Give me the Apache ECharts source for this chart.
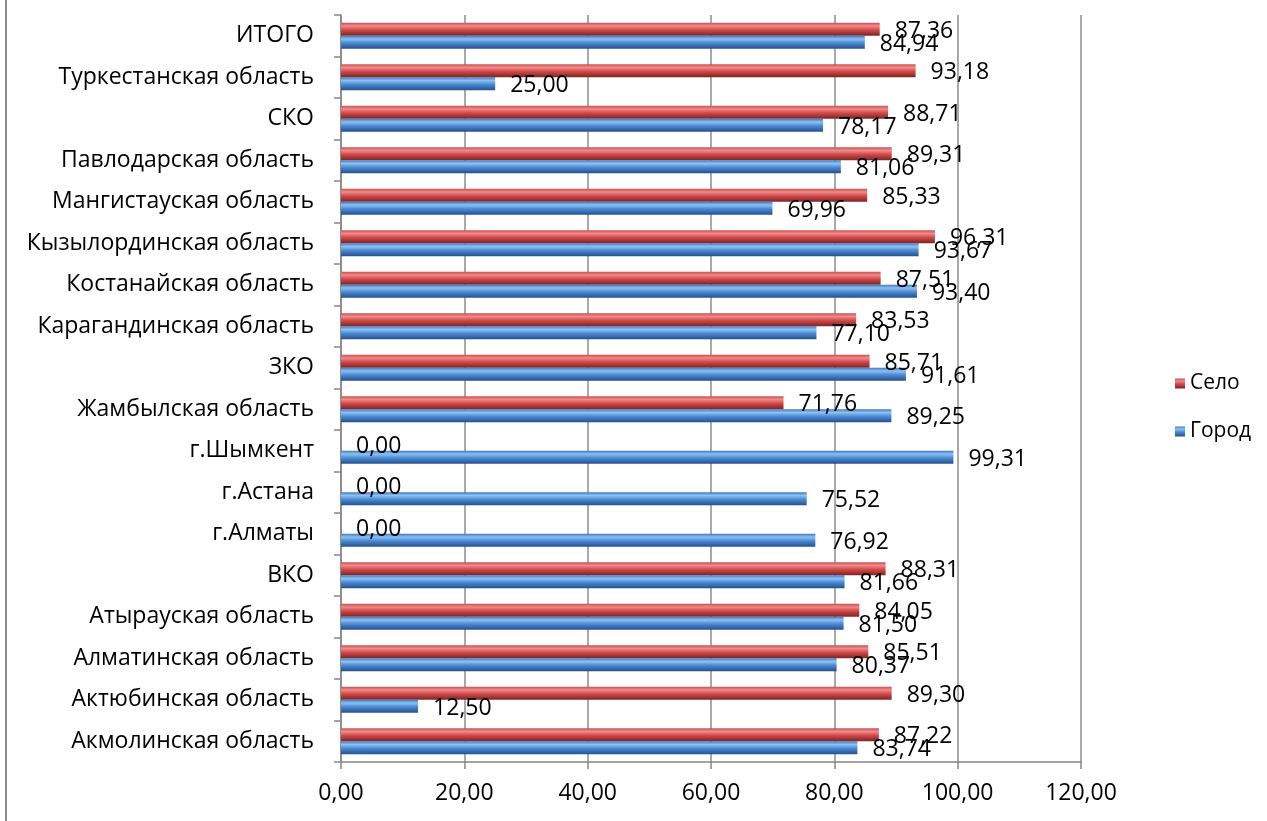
<!DOCTYPE html>
<html>
<head>
<meta charset="utf-8">
<script src="https://cdn.jsdelivr.net/npm/echarts@6/dist/echarts.min.js"></script>
<style>
html,body{margin:0;padding:0;background:#fff;}
#frame{position:absolute;left:5px;top:0;width:2px;height:821px;background:#8c8c8c;}
#chart{position:absolute;left:0;top:0;width:1267px;height:821px;}
</style>
</head>
<body>
<div id="chart"></div>
<div id="frame"></div>
<script>
const categories = ['Акмолинская область','Актюбинская область','Алматинская область','Атырауская область','ВКО','г.Алматы','г.Астана','г.Шымкент','Жамбылская область','ЗКО','Карагандинская область','Костанайская область','Кызылординская область','Мангистауская область','Павлодарская область','СКО','Туркестанская область','ИТОГО'];
const gorod = [83.74,12.50,80.37,81.50,81.66,76.92,75.52,99.31,89.25,91.61,77.10,93.40,93.67,69.96,81.06,78.17,25.00,84.94];
const selo  = [87.22,89.30,85.51,84.05,88.31,0.00,0.00,0.00,71.76,85.71,83.53,87.51,96.31,85.33,89.31,88.71,93.18,87.36];
const xTicks = [0,20,40,60,80,100,120];

const FONT = 'Open Sans';
const fmt = v => Number(v).toFixed(2).replace('.', ',');

function grad(top, hi, mid, dark){
  return new echarts.graphic.LinearGradient(0,0,0,1,[
    {offset:0, color:top},{offset:0.25, color:hi},{offset:0.55, color:mid},{offset:1, color:dark}
  ]);
}
const redFill = grad('#c85050','#f28a8a','#d24a4a','#7a2424');
const blueFill = grad('#3f78c0','#8cc2f2','#4d8ad4','#24508c');

const chart = echarts.init(document.getElementById('chart'));
const labelCfg = {
  show:true, position:'right', distance:15, offset:[0,2],
  formatter: p => fmt(p.value),
  fontFamily: FONT, fontSize:23, color:'#000'
};
chart.setOption({
  animation:false,
  textStyle:{fontFamily:FONT},
  grid:{left:341, top:15, right:186, bottom:59, containLabel:false},
  legend:{
    orient:'vertical', left:1170, top:368, itemGap:27,
    itemWidth:10, itemHeight:10, icon:'rect',
    data:['Село','Город'],
    textStyle:{fontFamily:FONT, fontSize:21, color:'#000'}
  },
  xAxis:{
    type:'value', min:xTicks[0], max:xTicks[xTicks.length-1], interval:20,
    axisLine:{show:true, lineStyle:{color:'#868686', width:1.5}},
    axisTick:{show:true, length:7, lineStyle:{color:'#868686', width:1.5}},
    splitLine:{show:true, lineStyle:{color:'#8c8c8c', width:1.5}},
    axisLabel:{margin:20, fontFamily:FONT, fontSize:23, color:'#000', formatter: v => fmt(v)}
  },
  yAxis:{
    type:'category', data:categories,
    axisLine:{show:true, lineStyle:{color:'#868686', width:1.5}},
    axisTick:{show:true, length:7, lineStyle:{color:'#868686', width:1.5}},
    axisLabel:{margin:27, fontFamily:FONT, fontSize:23, color:'#000'}
  },
  series:[
    {name:'Село', type:'bar', data:selo, barWidth:13, barGap:'0%',
     itemStyle:{color:redFill}, label:labelCfg},
    {name:'Город', type:'bar', data:gorod, barWidth:13, barGap:'0%',
     itemStyle:{color:blueFill}, label:labelCfg}
  ]
});
</script>
</body>
</html>
